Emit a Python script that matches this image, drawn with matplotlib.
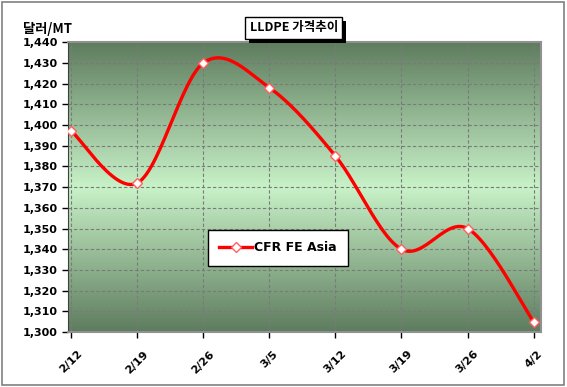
import numpy as np
import matplotlib.pyplot as plt
from matplotlib.colors import LinearSegmentedColormap
from matplotlib.patches import Rectangle

plt.rcParams['font.family'] = ['Noto Sans CJK KR', 'DejaVu Sans']

# data
dates = ['2/12', '2/19', '2/26', '3/5', '3/12', '3/19', '3/26', '4/2']
cfr_fe_asia = [1397, 1372, 1430, 1418, 1385, 1340, 1350, 1305]
yticks = list(range(1300, 1441, 10))


# Excel-style smoothed line (Catmull-Rom through the points)
def smooth(x, y, n=30):
    x = np.asarray(x, float)
    y = np.asarray(y, float)
    px = np.concatenate([[x[0]], x, [x[-1]]])
    py = np.concatenate([[y[0]], y, [y[-1]]])
    xs, ys = [], []
    t = np.linspace(0, 1, n)
    for i in range(1, len(px) - 2):
        p0, p1, p2, p3 = [np.array([px[j], py[j]]) for j in range(i - 1, i + 3)]
        c1 = p1 + (p2 - p0) / 6
        c2 = p2 - (p3 - p1) / 6
        b = ((1 - t) ** 3)[:, None] * p1 + (3 * (1 - t) ** 2 * t)[:, None] * c1 \
            + (3 * (1 - t) * t ** 2)[:, None] * c2 + (t ** 3)[:, None] * p2
        xs.append(b[:, 0])
        ys.append(b[:, 1])
    return np.concatenate(xs), np.concatenate(ys)


fig = plt.figure(figsize=(5.67, 3.87), dpi=100)
fig.patches.append(Rectangle((0.003, 0.005), 0.992, 0.99, transform=fig.transFigure,
                             fill=False, edgecolor='#808080', linewidth=1.2))
ax = fig.add_axes([0.12, 0.142, 0.835, 0.749])

# gradient background: dark - light - dark
cmap = LinearSegmentedColormap.from_list('g', ['#5e7c5e', '#c8f2c8', '#5e7c5e'])
grad = np.linspace(0, 1, 256).reshape(-1, 1)
ax.imshow(grad, cmap=cmap, aspect='auto', extent=[0, 1, 0, 1],
          transform=ax.transAxes, zorder=0)

x = np.arange(len(dates))
sx, sy = smooth(x, cfr_fe_asia)
ax.plot(sx, sy, color='#ff0000', linewidth=2.4, zorder=3, solid_capstyle='round')
ax.plot(x, cfr_fe_asia, linestyle='none', marker='D', markersize=5.5,
        markerfacecolor='white', markeredgecolor='#ff6060', markeredgewidth=1, zorder=4)
ax.plot([], [], color='#ff0000', linewidth=2.4, marker='D', markersize=5,
        markerfacecolor='white', markeredgecolor='#ff6060', label='CFR FE Asia')

ax.set_xlim(-0.05, 7.12)
ax.set_ylim(1300, 1440)
ax.set_yticks(yticks)
ax.set_yticklabels([f'{v:,}' for v in yticks], fontsize=8, fontweight='bold',
                   family='DejaVu Sans')
ax.set_xticks(x)
ax.set_xticklabels(dates, rotation=45, fontsize=8, fontweight='bold',
                   family='DejaVu Sans')
ax.tick_params(axis='both', length=4, width=1, color='black')
ax.tick_params(axis='x', pad=8)

ax.grid(True, color='#7a7a7a', linestyle=(0, (3, 2)), linewidth=0.8, zorder=1)
ax.set_axisbelow(True)

for s in ['top', 'right', 'bottom']:
    ax.spines[s].set_color('#909090')
    ax.spines[s].set_linewidth(1.5)
ax.spines['left'].set_color('#404040')

leg = ax.legend(loc='center', bbox_to_anchor=(0.444, 0.29),
                frameon=True, fancybox=False, edgecolor='black', framealpha=1,
                handlelength=2.6, borderpad=0.9, handletextpad=0.2,
                prop={'weight': 'bold', 'size': 9, 'family': 'DejaVu Sans'})
leg.get_frame().set_linewidth(1)

fig.text(0.04, 0.925, '달러/MT', fontsize=9.5, fontweight='bold', ha='left', va='center')

# title box with drop shadow
title = fig.text(0.518, 0.928, 'LLDPE 가격추이', fontsize=9, fontweight='bold', ha='center',
                 va='center', zorder=5,
                 bbox=dict(boxstyle='square,pad=0.35', facecolor='white',
                           edgecolor='black', linewidth=1))
fig.canvas.draw()
bb = title.get_bbox_patch().get_window_extent().transformed(fig.transFigure.inverted())
fig.patches.append(Rectangle((bb.x0 + 4 / 567, bb.y0 - 4 / 387), bb.width, bb.height,
                             transform=fig.transFigure, facecolor='black',
                             edgecolor='none', zorder=4))

fig.savefig('out.png', dpi=100)
